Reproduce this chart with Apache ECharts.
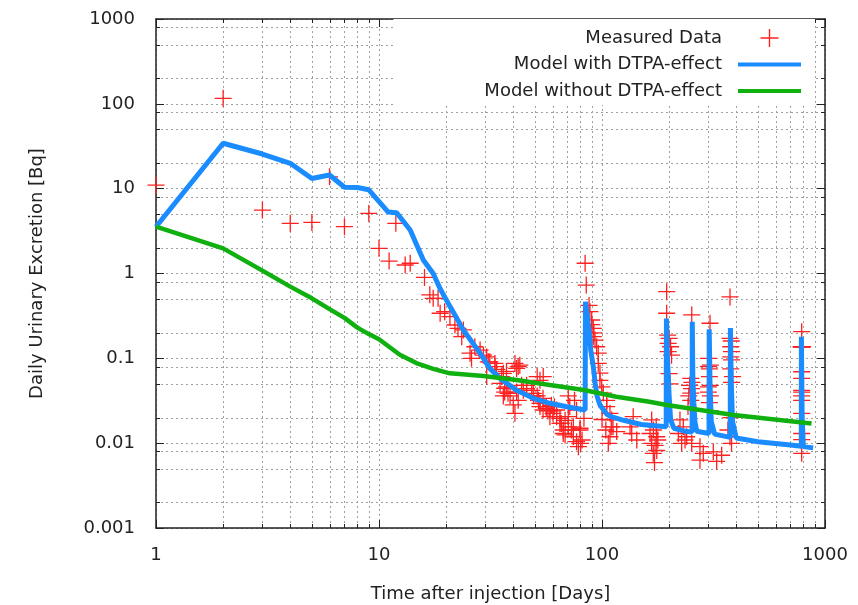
<!DOCTYPE html>
<html><head><meta charset="utf-8">
<script src="https://cdn.jsdelivr.net/npm/echarts/dist/echarts.min.js"></script>
<style>html,body{margin:0;padding:0;background:#fff}#c{width:858px;height:605px}</style>
</head><body><div id="c"></div>
<script>
// ---- data ----
const xTicks = [1, 10, 100, 1000];
const yTicks = [0.001, 0.01, 0.1, 1, 10, 100, 1000];
const xMinorGrid = [2,3,4,5,6,7,8,9,20,30,40,50,60,70,80,90,200,300,400,500,600,700,800,900];
const yMinorGrid = [0.002,0.005,0.008,0.02,0.05,0.08,0.2,0.5,0.8,2,5,8,20,50,80,200,500,800];

const measured = [
[1,11],[2,116],[3,5.6],[4,3.9],[5,4.0],[6,13.8],[7,3.56],[9,5.1],[10,1.98],[11.1,1.4],[11.9,3.9],[13.1,1.26],[13.8,1.32],
[16,0.9],[16.9,0.56],[17.5,0.51],[18.4,0.51],[18.8,0.34],[19.7,0.355],[20.8,0.31],[21.9,0.247],[22.6,0.226],[23.9,0.216],[23.5,0.18],
[25.6,0.115],[26,0.1],[26.9,0.137],[28.4,0.125],[29.4,0.109],[30.4,0.104],[31.4,0.091],[33.1,0.087],[30.9,0.091],[33.1,0.08],[33.7,0.074],[30.4,0.061],
[34.9,0.0508],[35.5,0.061],[36.1,0.0665],[37.3,0.07],[36.6,0.0444],[37.4,0.046],[36.6,0.04],[37.9,0.0387],[38.7,0.036],[36.1,0.036],
[40.7,0.087],[41.4,0.076],[42.1,0.08],[42.8,0.083],[41.4,0.04],[42.1,0.032],[40,0.0282],[40.7,0.0225],
[43.6,0.048],[44.4,0.042],[45.9,0.044],[45.9,0.048],[48.4,0.042],[49.2,0.0387],[49.4,0.036],
[51.2,0.061],[52.7,0.055],[54.5,0.061],[51.2,0.036],[51.9,0.032],[52.7,0.0295],[52.7,0.027],[54.4,0.0338],[54.4,0.0246],[56.3,0.0269],[56.3,0.0257],[57.2,0.024],[58.4,0.0205],[58.4,0.0246],[59.3,0.028],[60.3,0.024],[60.3,0.0225],[61.2,0.0269],[62.6,0.0246],[62.6,0.0205],
[64.8,0.0196],[64.8,0.0171],[65.7,0.0171],[67,0.0143],[67,0.013],[68.3,0.0125],[68.3,0.0186],[70.6,0.0205],[70.6,0.0156],[70.6,0.036],[71.7,0.027],[72.9,0.0143],[74.4,0.0156],[74.4,0.0119],[75.3,0.032],[76.9,0.0245],[76.9,0.0104],[78.4,0.0091],
[79.7,0.015],[79.7,0.0143],[80.2,0.00995],[81.4,0.0109],[83,0.0196],
[84,1.32],[85,0.73],[87.5,0.42],[88.3,0.355],[89.9,0.283],[90,0.25],[91.4,0.226],[92,0.2],[91.4,0.18],[93,0.164],[94.6,0.137],[96.2,0.115],[96.2,0.087],[97.9,0.067],[97.9,0.055],[99.7,0.046],[101.4,0.039],[105,0.032],[105,0.027],[108.6,0.0225],[110.5,0.0188],[110,0.0156],
[100,0.019],[104,0.0143],[112,0.0156],[108.6,0.0119],[106.7,0.00995],[116.4,0.0137],[133.6,0.0156],[135.9,0.013],[138,0.0205],[143.2,0.0109],[164.2,0.013],[167,0.00995],[167,0.0188],[169.8,0.0076],[175.9,0.0119],[170,0.0143],[175,0.0156],[173,0.0094],[178,0.0109],[176,0.0082],[172,0.0059],
[195,0.61],[195,0.34],[197,0.188],[200,0.172],[198,0.15],[203,0.137],[198,0.12],[205,0.109],[200,0.066],[202,0.05],
[223.7,0.0188],[231.5,0.0156],[219.9,0.013],[239.7,0.0119],[227.6,0.00995],[235.6,0.0109],[252.6,0.00995],
[252.6,0.325],[250,0.058],[253,0.052],[247,0.048],[252,0.044],[250,0.039],[245,0.036],[250,0.032],[243,0.027],
[305,0.259],[300,0.1],[306,0.083],[300,0.08],[303,0.075],[303,0.061],[306,0.048],[300,0.046],[300,0.04],[306,0.036],[303,0.03],[306,0.024],
[284.6,0.0076],[275,0.0063],[315.6,0.0079],[344,0.0072],[326.8,0.0061],[275,0.0091],
[375,0.53],[375,0.172],[380,0.16],[378,0.137],[381,0.12],[378,0.104],[381,0.096],[378,0.075],[385,0.061],[381,0.052],[378,0.02],[367,0.0143],[375,0.0119],[381,0.00995],
[786,0.206],[781,0.137],[784,0.137],[787,0.137],[790,0.137],[793,0.137],[786,0.0695],[786,0.058],[786,0.042],[786,0.04],[786,0.036],[786,0.032],[786,0.0225],[786,0.013],[786,0.011],[786,0.0076]
];

const modelWith = [
[1,3.56],[2,34.3],[3,25.6],[4,19.9],[5,13.2],[6,14.5],[7,10.4],[8,10.3],[9,9.7],[11,5.3],[12,5.2],[13.8,3.26],[15.8,1.44],[17.5,1.0],[18.8,0.66],[20.8,0.41],[23.9,0.216],[28.4,0.115],[31.4,0.076],[34.9,0.058],[41.4,0.042],[49.2,0.0338],[58.4,0.0295],[69.6,0.0269],
[84,0.0246],[84.3,0.465],[86,0.31],[88,0.19],[89,0.125],[91.4,0.08],[93.3,0.05],[95,0.036],[98,0.028],[105,0.022],[110,0.0205],[125,0.0186],[150,0.0166],
[194,0.0156],[194.5,0.295],[196.5,0.1],[198,0.066],[200,0.036],[203,0.019],[210,0.015],[240,0.0137],
[253.5,0.0135],[254,0.27],[255.5,0.06],[258,0.03],[261,0.018],[266,0.0138],
[302,0.013],[302.5,0.22],[305,0.05],[309,0.018],[320,0.0128],
[376,0.0117],[376.5,0.228],[380,0.05],[385,0.018],[400,0.0115],[500,0.0104],[700,0.0095],
[783,0.0092],[783.5,0.18],[790,0.02],[800,0.0091],[885,0.0088]
];

const modelWithout = [
[1,3.56],[2,1.98],[3,1.08],[4,0.70],[5,0.51],[6,0.38],[7,0.3],[8,0.23],[9,0.193],[10,0.168],[12.4,0.11],[14.7,0.088],[17.5,0.075],[20.8,0.0665],[29.4,0.062],[41.4,0.0555],[58.4,0.0484],[83,0.0423],[116,0.0353],[163,0.0308],[195,0.0282],[389,0.0215],[870,0.0171]
];

const seriesNames = ['Measured Data', 'Model with DTPA-effect', 'Model without DTPA-effect'];
const xName = 'Time after injection [Days]';
const yName = 'Daily Urinary Excretion [Bq]';

// ---- styles ----
const FONT = 'DejaVu Sans';
const TXT = '#222';
const AXIS = '#222';
const GRID = '#a0a0a0';
const RED = '#ff2020';
const BLUE = '#1a8cff';
const GREEN = '#10b010';
const CROSS = 'path://M0,7.39H16V8.61H0Z M7.39,0H8.61V16H7.39Z';
const LINEICON = 'path://M0,0H63V4H0Z';
const X_MIN = xTicks[0], X_MAX = xTicks[xTicks.length-1];
const Y_MIN = yTicks[0], Y_MAX = yTicks[yTicks.length-1];
const MINOR = 4;
const fmt = v => String(parseFloat(Number(v).toPrecision(4)));
const px = v => Math.round(v) + 0.5;

function vGrid(params, api) {
  const x = api.value(0);
  const b = api.coord([x, Y_MIN]), t = api.coord([x, Y_MAX]);
  const X = px(b[0]);
  return {type:'group', children:[
    {type:'line', shape:{x1:X,y1:b[1],x2:X,y2:t[1]}, style:{stroke:GRID,lineWidth:1,lineDash:[2,3]}},
    {type:'line', shape:{x1:X,y1:b[1],x2:X,y2:b[1]-MINOR}, style:{stroke:AXIS,lineWidth:1}},
    {type:'line', shape:{x1:X,y1:t[1],x2:X,y2:t[1]+MINOR}, style:{stroke:AXIS,lineWidth:1}}
  ]};
}
function hGrid(params, api) {
  const y = api.value(1);
  const l = api.coord([X_MIN, y]), r = api.coord([X_MAX, y]);
  const Y = px(l[1]);
  return {type:'group', children:[
    {type:'line', shape:{x1:l[0],y1:Y,x2:r[0],y2:Y}, style:{stroke:GRID,lineWidth:1,lineDash:[2,3]}},
    {type:'line', shape:{x1:l[0],y1:Y,x2:l[0]+MINOR,y2:Y}, style:{stroke:AXIS,lineWidth:1}},
    {type:'line', shape:{x1:r[0],y1:Y,x2:r[0]-MINOR,y2:Y}, style:{stroke:AXIS,lineWidth:1}}
  ]};
}

const axisCommon = {
  type:'log', logBase:10,
  axisLine:{show:true, lineStyle:{color:AXIS, width:1.5}},
  axisTick:{show:true, inside:true, length:8, lineStyle:{color:AXIS, width:1}},
  minorTick:{show:false}, minorSplitLine:{show:false}
};

const chart = echarts.init(document.getElementById('c'), null, {renderer:'canvas'});
chart.setOption({
  animation:false,
  backgroundColor:'#fff',
  textStyle:{fontFamily:FONT},
  grid:{left:156, right:33, top:19, bottom:77, containLabel:false, outerBoundsMode:'none'},
  legend:{
    data:[{name:seriesNames[0], icon:CROSS},{name:seriesNames[1], icon:LINEICON},{name:seriesNames[2], icon:LINEICON}],
    orient:'vertical', align:'right', right:43, top:19,
    padding:[10,14,5,91], backgroundColor:'#fff',
    itemWidth:63, itemHeight:18, itemGap:8.5,
    textStyle:{fontFamily:FONT, fontSize:18, color:TXT, padding:[0,11,0,0]},
    selectedMode:false
  },
  xAxis:[
    Object.assign({}, axisCommon, {
      min:X_MIN, max:X_MAX, position:'bottom',
      name:xName, nameLocation:'middle', nameGap:57,
      nameTextStyle:{fontFamily:FONT, fontSize:18, color:TXT},
      axisLabel:{formatter:fmt, fontFamily:FONT, fontSize:18, color:TXT, margin:18},
      splitLine:{show:true, lineStyle:{color:GRID, type:[2,3], width:1}}
    }),
    Object.assign({}, axisCommon, {
      min:X_MIN, max:X_MAX, position:'top', axisLabel:{show:false}, splitLine:{show:false}
    })
  ],
  yAxis:[
    Object.assign({}, axisCommon, {
      min:Y_MIN, max:Y_MAX, position:'left',
      name:yName, nameLocation:'middle', nameGap:110,
      nameTextStyle:{fontFamily:FONT, fontSize:18, color:TXT},
      axisLabel:{formatter:fmt, fontFamily:FONT, fontSize:18, color:TXT, margin:21},
      splitLine:{show:true, lineStyle:{color:GRID, type:[2,3], width:1}}
    }),
    Object.assign({}, axisCommon, {
      min:Y_MIN, max:Y_MAX, position:'right', axisLabel:{show:false}, splitLine:{show:false}
    })
  ],
  series:[
    {type:'custom', name:'xgrid', silent:true, renderItem:vGrid, data:xMinorGrid.map(v=>[v,1]), z:1},
    {type:'custom', name:'ygrid', silent:true, renderItem:hGrid, data:yMinorGrid.map(v=>[1,v]), z:1},
    {type:'scatter', name:seriesNames[0], data:measured, symbol:CROSS, symbolSize:17,
     itemStyle:{color:RED, opacity:1}, z:2, clip:false},
    {type:'line', name:seriesNames[1], data:modelWith, showSymbol:false, symbol:'none',
     lineStyle:{color:BLUE, width:5}, itemStyle:{color:BLUE}, z:3},
    {type:'line', name:seriesNames[2], data:modelWithout, showSymbol:false, symbol:'none',
     lineStyle:{color:GREEN, width:4.5}, itemStyle:{color:GREEN}, z:4}
  ]
});
</script></body></html>
